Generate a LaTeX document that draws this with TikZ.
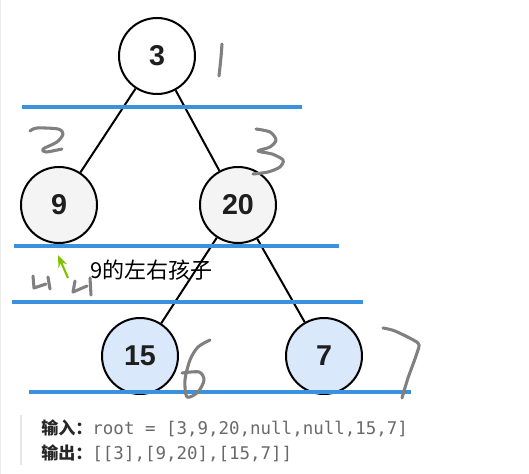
\documentclass[tikz,border=0pt]{standalone}
\usepackage{fontspec}
\setmainfont{Liberation Sans}
\newfontfamily\cjk{Noto Sans CJK SC}
\newfontfamily\mono{DejaVu Sans Mono}
\usetikzlibrary{arrows.meta}
\definecolor{lineblue}{RGB}{58,145,222}
\definecolor{nodegray}{RGB}{244,244,244}
\definecolor{nodeblue}{RGB}{218,232,252}
\definecolor{handgray}{RGB}{128,128,128}
\definecolor{arrowgreen}{RGB}{125,195,0}
\definecolor{codegray}{RGB}{105,105,105}
\definecolor{barGray}{RGB}{230,230,230}
\tikzset{
  tn/.style={circle, draw=black, line width=1.5pt, minimum size=57pt, inner sep=0pt,
    font=\fontsize{21.5}{21.5}\selectfont\bfseries, text={rgb,255:red,30;green,30;blue,30}},
  edge/.style={line width=1.5pt, draw=black},
  level/.style={line width=3.6pt, draw=lineblue},
  hand/.style={line width=2.3pt, draw=handgray, line cap=round, line join=round},
}
\begin{document}
\begin{tikzpicture}[x=0.75pt,y=-0.75pt]
\useasboundingbox (0,0) rectangle (529,474);
\fill[barGray!70] (0,0) rectangle (1.5,474);
% nodes
\node[tn, fill=white] (n3) at (157,56) {3};
\node[tn, fill=nodegray] (n9) at (59,205) {9};
\node[tn, fill=nodegray] (n20) at (238,205) {20};
\node[tn, fill=nodeblue] (n15) at (140,356) {15};
\node[tn, fill=nodeblue] (n7) at (324,356) {7};
% edges
\draw[edge] (n3) -- (n9);
\draw[edge] (n3) -- (n20);
\draw[edge] (n20) -- (n15);
\draw[edge] (n20) -- (n7);
% level lines
\draw[level] (22,107) -- (302,107);
\draw[level] (14,246) -- (339,246);
\draw[level] (12,302) -- (363,302);
\draw[level] (29,392) -- (411,392);
% handwriting
\draw[hand] (222,44) .. controls (221,58) .. (219,76);
\draw[hand] plot[smooth, tension=0.5] coordinates {(30,131) (37,128) (58,129) (63,134) (57,142) (43,149) (46,152) (62,149)};
\draw[hand] plot[smooth, tension=0.5] coordinates {(256,129) (270,132) (276,140) (270,147) (258,151) (272,154) (283,160) (280,167) (268,172) (253,174)};
\draw[hand] plot[smooth, tension=0.5] coordinates {(210,340) (198,347) (190,360) (185,380) (187,397) (198,392) (204,380) (199,372) (182,373)};
\draw[hand] plot[smooth, tension=0.4] coordinates {(383,328) (395,331) (418,343) (417,353) (408,378) (402,398)};
\draw[hand] (33,276) -- (34,288) -- (46,284);
\draw[hand] (48,277) -- (50,289);
\draw[hand] (75,281) -- (73,292) -- (87,286);
\draw[hand] (90,278) -- (91,295);
% annotation
\coordinate (arrS) at (68,278);
\coordinate (arrE) at (58,255);
\draw[arrowgreen, line width=1.6pt, -{Stealth[length=9pt,width=7pt]}] (arrS) -- (arrE);
\node[anchor=west, inner sep=0pt, font=\cjk\fontsize{16.5}{16.5}\selectfont] (lbl) at (90,270) {9的左右孩子};
% bottom text
\fill[barGray] (20,415) rectangle (22,465);
\node[anchor=west, inner sep=0pt] (in) at (41,428) {{\cjk\bfseries\fontsize{12.8}{13}\selectfont\color{black!85}输入：}{\mono\fontsize{13.1}{13}\selectfont\color{codegray}root = [3,9,20,null,null,15,7]}};
\node[anchor=west, inner sep=0pt] (out) at (41,453) {{\cjk\bfseries\fontsize{12.8}{13}\selectfont\color{black!85}输出：}{\mono\fontsize{13.1}{13}\selectfont\color{codegray}[[3],[9,20],[15,7]]}};
\end{tikzpicture}
\end{document}
